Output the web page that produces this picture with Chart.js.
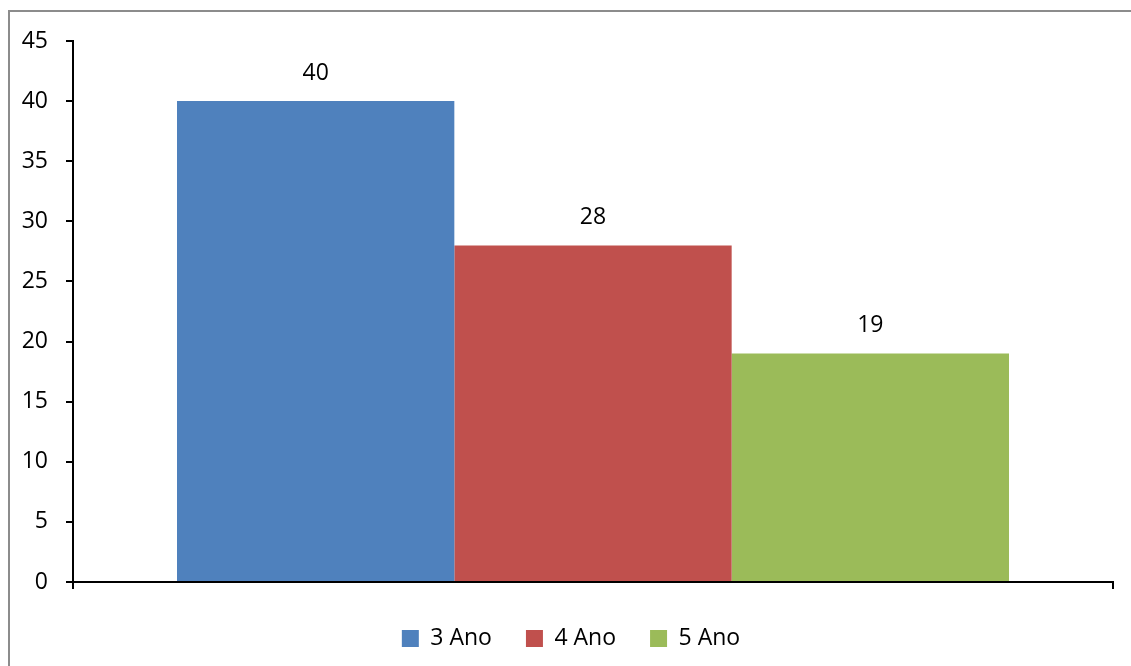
<!DOCTYPE html>
<html>
<head>
<meta charset="utf-8">
<title>Ano</title>
<script src="https://cdn.jsdelivr.net/npm/chart.js@4.4.1/dist/chart.umd.min.js"></script>
<style>
    html, body {
        margin: 0;
        padding: 0;
        background: #ffffff;
        overflow: hidden;
    }
    #frame {
        position: absolute;
        left: 8px;
        top: 10px;
        width: 1140px;
        height: 700px;
        border: 2px solid #8c8c8c;
    }
    #chart {
        position: absolute;
        left: 0;
        top: 0;
    }
</style>
</head>
<body>
<div id="frame"></div>
<canvas id="chart" width="1131" height="666"></canvas>
<script>
const categories = [""];
const seriesNames = ["3 Ano", "4 Ano", "5 Ano"];
const seriesValues = [40, 28, 19];
const seriesColors = ["#4f81bd", "#c0504d", "#9bbb59"];
const yTicks = [0, 5, 10, 15, 20, 25, 30, 35, 40, 45];

const FONT = { family: "'Open Sans', sans-serif", size: 23 };

// value printed above each bar
const barValueLabels = {
    id: "barValueLabels",
    afterDatasetsDraw(chart) {
        const ctx = chart.ctx;
        ctx.save();
        ctx.font = `${FONT.size}px ${FONT.family}`;
        ctx.fillStyle = "#000";
        ctx.textAlign = "center";
        ctx.textBaseline = "middle";
        chart.data.datasets.forEach((ds, i) => {
            const meta = chart.getDatasetMeta(i);
            meta.data.forEach((bar, j) => {
                ctx.fillText(String(ds.data[j]), bar.x, bar.y - 28);
            });
        });
        ctx.restore();
    }
};

// legend is centred a bit right of the canvas middle
const legendShift = {
    id: "legendShift",
    afterLayout(chart) {
        const lg = chart.legend;
        if (lg) {
            lg.left += 29;
            lg.top += 2;
            lg.bottom += 2;
        }
    }
};

function buildDatasets() {
    return seriesNames.map((name, i) => ({
        label: name,
        data: [seriesValues[i]],
        backgroundColor: seriesColors[i],
        borderWidth: 0,
        categoryPercentage: 0.8,
        barPercentage: 1.0
    }));
}

const config = {
    type: "bar",
    data: {
        labels: categories,
        datasets: buildDatasets()
    },
    options: {
        responsive: false,
        animation: false,
        layout: {
            padding: { left: 0, right: 18, top: 41, bottom: 8 }
        },
        scales: {
            x: {
                ticks: { display: false },
                grid: {
                    display: true,
                    drawOnChartArea: false,
                    drawTicks: true,
                    tickLength: 7,
                    color: "#000",
                    lineWidth: 2
                },
                border: { display: true, color: "#000", width: 2 },
                afterFit(scale) {
                    scale.height = 9;
                }
            },
            y: {
                min: 0,
                max: 45,
                afterBuildTicks(scale) {
                    scale.ticks = yTicks.map(v => ({ value: v }));
                },
                ticks: {
                    color: "#000",
                    font: FONT,
                    padding: 18
                },
                grid: {
                    display: true,
                    drawOnChartArea: false,
                    drawTicks: true,
                    tickLength: 7,
                    color: "#000",
                    lineWidth: 2
                },
                border: { display: true, color: "#000", width: 2 },
                afterFit(scale) {
                    scale.width = 73;
                }
            }
        },
        plugins: {
            legend: {
                position: "bottom",
                labels: {
                    color: "#000",
                    font: FONT,
                    boxWidth: 17,
                    boxHeight: 17,
                    padding: 34
                }
            },
            tooltip: { enabled: false }
        }
    },
    plugins: [barValueLabels, legendShift]
};

new Chart(document.getElementById("chart").getContext("2d"), config);
</script>
</body>
</html>
